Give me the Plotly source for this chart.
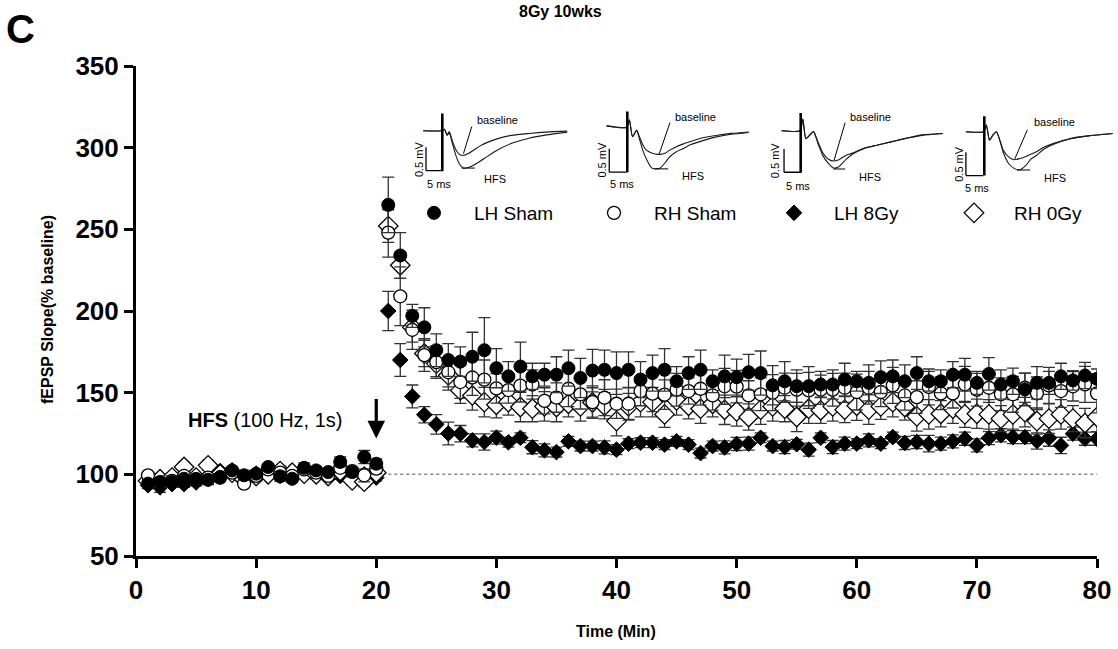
import plotly.graph_objects as go

# ---------------- LTP time course (fEPSP slope, % of baseline) ----------------
minutes = list(range(1, 81))

lh_sham = [94.3, 95.3, 95.3, 97.3, 97, 96.7, 98.4, 102.4, 99.4, 100.4,
           104.5, 98.8, 97.3, 104, 102.4, 101.4, 107.6, 101.4, 110.6, 106.5,
           265, 234, 197, 190, 176, 170, 169, 172, 176, 165,
           160, 166, 160, 161, 161, 165, 159, 163.5, 164, 162,
           164, 158, 162, 164, 157, 162, 164, 157, 160, 159.5,
           162.5, 162, 154.5, 157, 154, 154, 155, 155, 158, 157,
           156, 159.5, 160, 157, 162, 157, 157, 161, 161, 156,
           161.5, 155, 157, 152, 156, 156, 160, 157.5, 160.5, 158.5]
lh_sham_err = [2, 3, 3, 2, 2, 3, 2, 2, 3, 2, 2, 3, 2, 3, 2, 2, 3, 3, 4, 3,
               17, 14, 7, 12, 10, 10, 9, 15, 20, 12,
               9, 15, 8, 7, 11, 11, 12, 13, 12, 13,
               11, 11, 11, 13, 9, 10, 12, 7, 13, 11,
               11, 13.5, 12, 12, 10, 12, 8, 9, 10, 6,
               11, 10, 10, 10, 10, 6, 7, 8, 10, 7,
               10, 9, 8, 10, 10, 7, 8, 6, 8, 6]

rh_sham = [99.4, 95, 96, 99, 97, 98, 98, 101, 94.3, 99,
           103, 101, 99, 103, 101, 99, 104, 102, 99.4, 103.5,
           248, 209, 188.5, 173, 168.7, 162.5, 156.5, 159.3, 158, 152.6,
           151.6, 154.3, 155, 145, 147, 152.4, 149, 144.2, 146.9, 143.2,
           143.2, 151, 149.4, 148.8, 151.8, 151, 152.4, 148.3, 153.9, 153.7,
           148.3, 149, 150, 153, 151.8, 151.4, 151.8, 151.8, 153, 150.4,
           153, 150.4, 154.5, 148.3, 147.3, 153.5, 149.6, 149.6, 155.1, 151.8,
           153, 149, 149, 153, 149.6, 154.5, 151, 153.9, 155.1, 149.6]
rh_sham_err = [2, 2, 3, 2, 3, 2, 2, 3, 2, 3, 2, 3, 2, 2, 3, 2, 3, 2, 4, 3,
               15, 18, 12, 10, 10, 9, 10, 11, 12, 9,
               8, 10, 9, 8, 9, 11, 9, 10, 11, 9,
               10, 9, 11, 9, 10, 8, 10, 9, 11, 10,
               9, 10, 11, 9, 10, 11, 9, 10, 9, 11,
               10, 9, 11, 9, 10, 11, 10, 9, 11, 10,
               9, 10, 11, 9, 10, 11, 10, 9, 11, 12]

lh_8gy = [93.3, 92, 94, 94, 95, 97, 102, 101, 96, 98,
          101, 99, 98, 103, 101, 100, 99, 98, 100, 98,
          200, 170, 147.7, 136.5, 130.6, 125, 124.9, 120.8, 119.8, 122.5,
          119.6, 122.4, 116.6, 114.7, 113.6, 120.2, 117.3, 117.3, 116.5, 115.1,
          118.8, 119.4, 119.4, 118.2, 120.2, 118.2, 113, 117.3, 116.5, 118.6,
          118.8, 122.4, 117.3, 116.7, 118.4, 115.1, 122.4, 116.7, 118.8, 118.8,
          120.8, 118.8, 122.8, 119.2, 119.8, 118.8, 118.8, 120.2, 121.8, 117.7,
          122.2, 123.9, 122.8, 122.8, 120.4, 122.2, 117.7, 124.9, 121.8, 121.8]
lh_8gy_err = [2, 3, 2, 2, 2, 2, 2, 2, 2, 2, 2, 2, 2, 2, 2, 2, 2, 2, 2, 2,
              12, 10, 7, 5, 6, 7, 5, 4, 5, 4,
              3, 3, 4, 4, 3, 3, 3, 3, 4, 3,
              3, 3, 3, 3, 3, 3, 3, 3, 4, 4,
              4, 3, 3, 4, 3, 4, 3, 4, 4, 3,
              4, 3, 3, 4, 4, 5, 4, 4, 4, 4,
              4, 4, 4, 4, 5, 5, 5, 4, 4, 4]

rh_0gy = [96, 97, 98, 104.5, 98, 105.5, 100, 101, 97, 99,
          100, 102, 101, 100.4, 100, 99, 102, 96.3, 95.5, 101,
          252, 228, 190, 174, 167.8, 160.6, 151.4, 148.3, 144.2, 142.6,
          144.2, 141.2, 140.2, 141.6, 141.2, 143.2, 141.6, 144, 142, 132.6,
          141.6, 144.2, 144.2, 136.7, 145.3, 142, 140.2, 143.2, 139.5, 138.5,
          135.1, 139.6, 141.6, 140.2, 135.1, 140.2, 139.2, 141.6, 139.6, 142,
          139.6, 141.6, 144.2, 141.2, 135.5, 136.7, 137.1, 140.2, 136.7, 137.1,
          136.7, 134.1, 136.7, 138.1, 132.6, 134.1, 136.7, 134.1, 131.4, 135.1]
rh_0gy_err = [2, 3, 2, 3, 2, 3, 2, 2, 3, 2, 2, 3, 2, 2, 3, 2, 3, 3, 3, 3,
              10, 8, 9, 8, 8, 9, 8, 9, 9, 8,
              8, 9, 8, 9, 9, 8, 9, 9, 8, 9,
              8, 9, 9, 8, 9, 8, 9, 8, 9, 9,
              8, 9, 9, 8, 9, 9, 8, 9, 8, 9,
              9, 8, 9, 8, 9, 9, 8, 9, 8, 9,
              9, 8, 9, 9, 8, 9, 9, 8, 9, 9]

y_ticks = [50, 100, 150, 200, 250, 300, 350]
x_ticks = [0, 10, 20, 30, 40, 50, 60, 70, 80]

# ---------------- Example fEPSP traces (ms after stimulus, mV) ----------------
trace1_ms = [-5.5, -0.2, 0.6, 1.4, 2.0, 3.0, 4.0, 5.0, 6.0, 7.5, 9, 11, 13, 16, 20, 25, 30, 36]
trace1_base = [0, 0, 0.03, -0.09, -0.02, -0.24, -0.42, -0.51, -0.53, -0.49, -0.42, -0.32,
               -0.25, -0.17, -0.10, -0.06, -0.03, -0.01]
trace1_hfs = [0, 0, 0.03, -0.10, -0.05, -0.30, -0.55, -0.72, -0.80, -0.79, -0.74, -0.65,
              -0.55, -0.41, -0.27, -0.16, -0.09, -0.03]

trace2_ms = [-6, -0.2, 0.6, 1.5, 2.7, 3.5, 4.5, 5.5, 7, 8, 9.5, 11, 12, 14, 16, 18, 22, 26, 30, 35]
trace2_base = [0.03, 0, 0.16, -0.20, -0.06, -0.20, -0.38, -0.49, -0.55, -0.57, -0.58, -0.55,
               -0.50, -0.42, -0.36, -0.31, -0.22, -0.17, -0.13, -0.10]
trace2_hfs = [0.03, 0, 0.16, -0.20, -0.07, -0.25, -0.50, -0.68, -0.87, -0.89, -0.87, -0.75,
              -0.65, -0.53, -0.46, -0.38, -0.28, -0.20, -0.15, -0.11]

trace3_ms = [-5.5, -0.2, 0.6, 1.5, 3.0, 3.7, 5, 6.5, 8, 9.5, 11, 13, 15, 18, 22, 26, 30, 35, 41]
trace3_base = [0, 0, 0.25, -0.17, -0.06, -0.02, -0.24, -0.49, -0.61, -0.65, -0.62, -0.53,
               -0.48, -0.38, -0.31, -0.24, -0.17, -0.09, -0.06]
trace3_hfs = [0, 0, 0.25, -0.17, -0.06, -0.02, -0.28, -0.55, -0.70, -0.80, -0.77, -0.62,
              -0.50, -0.39, -0.31, -0.24, -0.17, -0.10, -0.06]

trace4_ms = [-5.3, -0.2, 0.6, 1.5, 2.5, 3.5, 4.5, 5.5, 7, 8.5, 10, 12, 13.5, 15, 17, 20, 25, 30, 37]
trace4_base = [0, 0, 0.14, -0.18, -0.07, 0, -0.18, -0.40, -0.54, -0.60, -0.58, -0.53,
               -0.48, -0.43, -0.34, -0.25, -0.14, -0.09, -0.04]
trace4_hfs = [0, 0, 0.14, -0.18, -0.07, 0, -0.20, -0.45, -0.68, -0.78, -0.82, -0.72,
              -0.58, -0.51, -0.38, -0.27, -0.15, -0.09, -0.04]

# stimulus artefact extent (mV) for each trace
artifact_top = [0.37, 0.34, 0.38, 0.33]
artifact_bottom = [-0.85, -0.96, -0.89, -0.94]

# ---------------- Layout geometry ----------------
FONT = "Arial, Liberation Sans, sans-serif"
W, H = 1118, 649
ML, MR, MT, MB = 136, 0, 66, 93
PW, PH = W - ML - MR, H - MT - MB
MAIN_RIGHT = 1097  # pixel where x = 80 falls


def px_x(px):
    return (px - ML) / PW


def px_y(py):
    return (H - MB - py) / PH


fig = go.Figure()

series = [
    ("LH 8Gy", lh_8gy, lh_8gy_err, dict(symbol="diamond", size=12, color="black",
                                       line=dict(color="black", width=1)), 3),
    ("RH 0Gy", rh_0gy, rh_0gy_err, dict(symbol="diamond", size=15, color="white",
                                       line=dict(color="black", width=1.3)), 4),
    ("RH Sham", rh_sham, rh_sham_err, dict(symbol="circle", size=13, color="white",
                                          line=dict(color="black", width=1.3)), 2),
    ("LH Sham", lh_sham, lh_sham_err, dict(symbol="circle", size=13, color="black",
                                          line=dict(color="black", width=1)), 1),
]
for name, vals, errs, marker, rank in series:
    fig.add_trace(go.Scatter(
        x=minutes, y=vals, mode="markers", name=name, marker=marker,
        error_y=dict(type="data", array=errs, color="#333333", thickness=1.3, width=6),
        legendrank=rank, xaxis="x", yaxis="y",
    ))

# ---------------- Inset traces ----------------
traces = [
    (trace1_ms, trace1_base, trace1_hfs),
    (trace2_ms, trace2_base, trace2_hfs),
    (trace3_ms, trace3_base, trace3_hfs),
    (trace4_ms, trace4_base, trace4_hfs),
]
# stimulus pixel origin of each inset, and its drawing window (ms)
inset_origin = [(442.3, 130.7), (627.3, 127.3), (800.7, 130.7), (984.3, 131.7)]
inset_xrange = [(-9, 42), (-9, 42), (-9, 42), (-9, 38)]
inset_yrange = (-1.35, 0.5)
MS_PX, MV_PX = 3.47, 46.7

# label layout per inset: baseline text, baseline pointer, HFS text, HFS pointer,
# scale-bar corner, "0.5 mV" position, "5 ms" position
inset_labels = [
    dict(bt=(9.4, 0.22), bp=((8.5, 0.09), (6.1, -0.49)), ht=(11.3, -1.04),
         hp=((5.6, -0.8), (9.4, -0.8)), sb=(-4.7, -0.855), mv=(-6.9, -0.6), ms=(-1.0, -1.15)),
    dict(bt=(13.3, 0.22), bp=((12.3, 0.1), (9.2, -0.57)), ht=(15.2, -1.04),
         hp=((8.0, -0.89), (11.8, -0.89)), sb=(-5.2, -0.96), mv=(-7.4, -0.7), ms=(-1.6, -1.22)),
    dict(bt=(13.75, 0.29), bp=((12.8, 0.17), (9.6, -0.64)), ht=(16.2, -1.0),
         hp=((9.4, -0.82), (12.8, -0.82)), sb=(-4.8, -0.89), mv=(-7.4, -0.63), ms=(-0.9, -1.18)),
    dict(bt=(13.7, 0.2), bp=((12.4, 0.04), (8.8, -0.58)), ht=(16.5, -0.99),
         hp=((9.5, -0.82), (13.2, -0.82)), sb=(-5.3, -0.94), mv=(-7.2, -0.68), ms=(-2.2, -1.2)),
]

annotations = []
shapes = []
layout_axes = {}
for i, ((ms, base, hfs), (ox, oy), xr, lab) in enumerate(
        zip(traces, inset_origin, inset_xrange, inset_labels)):
    n = i + 2
    xa, ya = f"x{n}", f"y{n}"
    x0 = px_x(ox + xr[0] * MS_PX)
    x1 = px_x(ox + xr[1] * MS_PX)
    y0 = px_y(oy - inset_yrange[0] * MV_PX)
    y1 = px_y(oy - inset_yrange[1] * MV_PX)
    layout_axes[f"xaxis{n}"] = dict(domain=[x0, x1], range=list(xr), visible=False,
                                    anchor=ya, fixedrange=True, automargin=False)
    layout_axes[f"yaxis{n}"] = dict(domain=[y0, y1], range=list(inset_yrange), visible=False,
                                    anchor=xa, fixedrange=True, automargin=False)
    for vals in (base, hfs):
        fig.add_trace(go.Scatter(x=ms, y=vals, mode="lines", xaxis=xa, yaxis=ya,
                                 line=dict(color="#1a1a1a", width=1.1, shape="spline",
                                           smoothing=0.6),
                                 showlegend=False, hoverinfo="skip"))
    # stimulus artefact
    fig.add_trace(go.Scatter(x=[0, 0], y=[artifact_top[i], artifact_bottom[i]], mode="lines",
                             xaxis=xa, yaxis=ya, line=dict(color="black", width=2.6),
                             showlegend=False, hoverinfo="skip"))
    line = dict(color="black", width=1)
    (a, b), (c, d) = lab["bp"]
    shapes.append(dict(type="line", xref=xa, yref=ya, x0=a, y0=b, x1=c, y1=d, line=line))
    (a, b), (c, d) = lab["hp"]
    shapes.append(dict(type="line", xref=xa, yref=ya, x0=a, y0=b, x1=c, y1=d, line=line))
    sx, sy = lab["sb"]
    shapes.append(dict(type="line", xref=xa, yref=ya, x0=sx, y0=sy, x1=sx, y1=sy + 0.5,
                       line=dict(color="black", width=1.3)))
    shapes.append(dict(type="line", xref=xa, yref=ya, x0=sx, y0=sy, x1=sx + 5, y1=sy,
                       line=dict(color="black", width=1.3)))
    small = dict(family=FONT, size=11, color="black")
    annotations += [
        dict(x=lab["bt"][0], y=lab["bt"][1], xref=xa, yref=ya, text="baseline",
             showarrow=False, xanchor="left", yanchor="middle", font=small),
        dict(x=lab["ht"][0], y=lab["ht"][1], xref=xa, yref=ya, text="HFS",
             showarrow=False, xanchor="left", yanchor="middle", font=small),
        dict(x=lab["mv"][0], y=lab["mv"][1], xref=xa, yref=ya, text="0.5 mV",
             showarrow=False, textangle=-90, xanchor="center", yanchor="middle", font=small),
        dict(x=lab["ms"][0], y=lab["ms"][1], xref=xa, yref=ya, text="5 ms",
             showarrow=False, xanchor="center", yanchor="middle", font=small),
    ]

# ---------------- Main annotations ----------------
annotations += [
    dict(x=20, y=122, ax=20, ay=147, xref="x", yref="y", axref="x", ayref="y",
         showarrow=True, arrowhead=2, arrowsize=1.1, arrowwidth=3.2, arrowcolor="black",
         text=""),
    dict(x=4.2, y=133, xref="x", yref="y", text="<b>HFS</b> (100 Hz, 1s)", showarrow=False,
         xanchor="left", yanchor="middle", font=dict(family=FONT, size=20, color="black")),
    dict(x=px_x(4), y=px_y(29), xref="paper", yref="paper", text="<b>C</b>",
         showarrow=False, xanchor="left", yanchor="middle",
         font=dict(family=FONT, size=40, color="black")),
    dict(x=px_x(560), y=px_y(1), xref="paper", yref="paper", text="<b>8Gy 10wks</b>",
         showarrow=False, xanchor="center", yanchor="top",
         font=dict(family=FONT, size=16, color="black")),
    dict(x=px_x(616), y=px_y(631), xref="paper", yref="paper", text="<b>Time (Min)</b>",
         showarrow=False, xanchor="center", yanchor="middle",
         font=dict(family=FONT, size=16, color="black")),
    dict(x=px_x(47), y=px_y(310), xref="paper", yref="paper",
         text="<b>fEPSP Slope(% baseline)</b>", showarrow=False, textangle=-90,
         xanchor="center", yanchor="middle", font=dict(family=FONT, size=16, color="black")),
]

shapes.append(dict(type="line", xref="x", yref="y", x0=20, x1=80, y0=100, y1=100,
                   line=dict(color="#888888", width=1.5, dash="dot"), layer="below"))

axis_common = dict(showline=True, linewidth=3, linecolor="black", ticks="outside",
                   ticklen=9, tickwidth=3, tickcolor="black", showgrid=False, zeroline=False,
                   tickfont=dict(family=FONT, size=26, color="black"), fixedrange=True,
                   automargin=False)

fig.update_layout(
    width=W, height=H,
    margin=dict(l=ML, r=MR, t=MT, b=MB, pad=0, autoexpand=False),
    paper_bgcolor="white", plot_bgcolor="white",
    font=dict(family=FONT, color="black"),
    xaxis=dict(domain=[0, px_x(MAIN_RIGHT)], range=[0, 80], tickvals=x_ticks,
               ticktext=[f"<b>{v}</b>" for v in x_ticks], anchor="y", **axis_common),
    yaxis=dict(domain=[0, 1], range=[50, 350], tickvals=y_ticks,
               ticktext=[f"<b>{v}</b>" for v in y_ticks], anchor="x", **axis_common),
    showlegend=True,
    legend=dict(orientation="h", x=px_x(394), y=px_y(213), xanchor="left", yanchor="middle",
                font=dict(family=FONT, size=19, color="black"), itemwidth=70,
                entrywidth=95, bgcolor="rgba(0,0,0,0)", traceorder="normal"),
    annotations=annotations,
    shapes=shapes,
    **layout_axes,
)

fig.write_html("out.html")
